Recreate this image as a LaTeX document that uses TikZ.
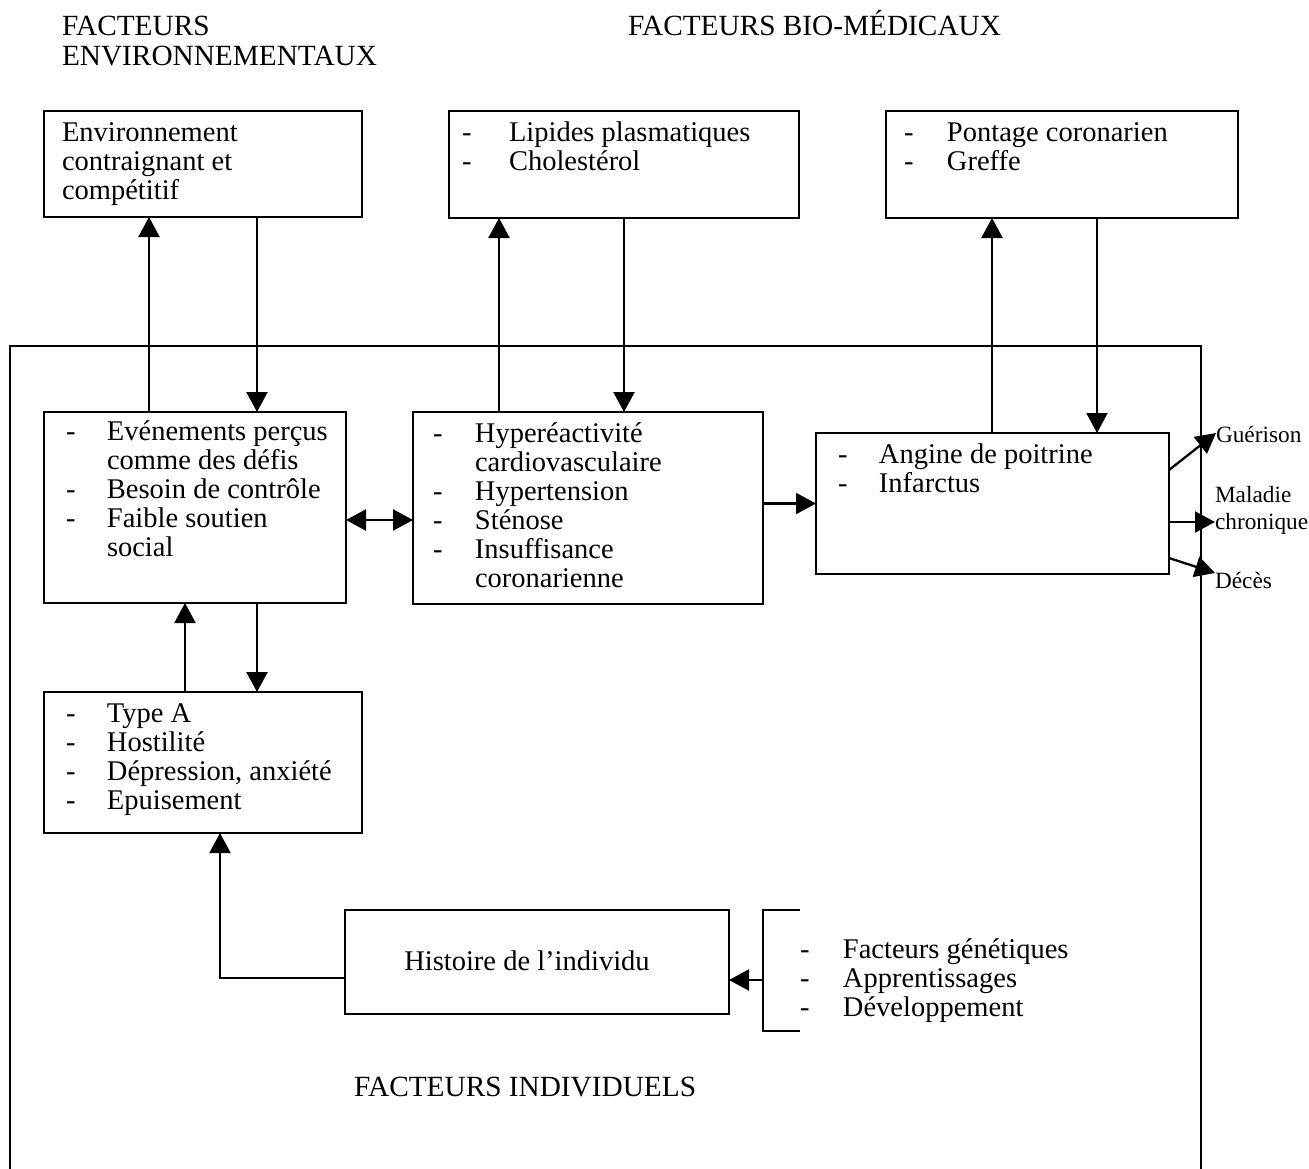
\documentclass[tikz,border=0pt]{standalone}
\usepackage{fontspec}
\setmainfont{Liberation Serif}
\usetikzlibrary{arrows.meta}
\newcommand{\blist}[2]{\begin{tabular}[t]{@{}p{#1}@{}l@{}}#2\end{tabular}}
\newcommand{\tlines}[1]{\begin{tabular}[t]{@{}l@{}}#1\end{tabular}}
\begin{document}
\begin{tikzpicture}[x=1pt,y=-1pt,
  box/.style={draw,line width=2.3pt,inner sep=0pt,outer sep=0pt},
  txt/.style={anchor=base west,inner sep=0pt,outer sep=0pt,font=\fontsize{28.5}{29}\selectfont},
  ttl/.style={anchor=base west,inner sep=0pt,outer sep=0pt,font=\fontsize{29.3}{29}\selectfont},
  small/.style={anchor=base west,inner sep=0pt,outer sep=0pt,font=\fontsize{23.3}{27}\selectfont},
  lin/.style={line width=2.3pt},
  arr/.style={line width=2.3pt,-{Triangle[length=20pt,width=21pt]}},
  darr/.style={line width=2.3pt,{Triangle[length=20pt,width=21pt]}-{Triangle[length=20pt,width=21pt]}}]
\fill[white] (0,0) rectangle (1309,1168);
\useasboundingbox (0,0) rectangle (1309,1168);

% outer frame (bottom cut off)
\draw[lin] (10,1190) -- (10,346) -- (1201,346) -- (1201,1190);

% titles
\node[ttl] (t1) at (62,35) {\begin{tabular}[t]{@{}l@{}}FACTEURS\\[1pt]ENVIRONNEMENTAUX\end{tabular}};
\node[ttl] (t2) at (628,35) {FACTEURS BIO-MÉDICAUX};
\node[ttl] (t3) at (354,1096) {FACTEURS INDIVIDUELS};

% boxes
\node[box,minimum width=318pt,minimum height=106pt] (env) at (203,164) {};
\node[box,minimum width=350pt,minimum height=107pt] (lip) at (624,164.5) {};
\node[box,minimum width=352pt,minimum height=107pt] (pon) at (1062,164.5) {};
\node[box,minimum width=302pt,minimum height=191pt] (evt) at (195,507.5) {};
\node[box,minimum width=350pt,minimum height=192pt] (hyp) at (588,508) {};
\node[box,minimum width=353pt,minimum height=141pt] (ang) at (992.5,503.5) {};
\node[box,minimum width=318pt,minimum height=141pt] (typ) at (203,762.5) {};
\node[box,minimum width=384pt,minimum height=104pt] (his) at (537,962) {};

% box texts
\node[txt] (envt) at (62,141) {\tlines{Environnement\\contraignant et\\compétitif}};
\node[txt] (lipt) at (462,141) {\blist{47pt}{-&Lipides plasmatiques\\-&Cholestérol}};
\node[txt] (pont) at (904,141) {\blist{43pt}{-&Pontage coronarien\\-&Greffe}};
\node[txt] (evtt) at (66,440) {\blist{41pt}{-&Evénements perçus\\&comme des défis\\-&Besoin de contrôle\\-&Faible soutien\\&social}};
\node[txt] (hypt) at (433,442) {\blist{42pt}{-&Hyperéactivité\\&cardiovasculaire\\-&Hypertension\\-&Sténose\\-&Insuffisance\\&coronarienne}};
\node[txt] (angt) at (838,463) {\blist{41pt}{-&Angine de poitrine\\-&Infarctus}};
\node[txt] (typt) at (66,722) {\blist{41pt}{-&Type A\\-&Hostilité\\-&Dépression, anxiété\\-&Epuisement}};
\node[txt,anchor=base] (hist) at (527,970) {Histoire de l’individu};
\node[txt] (gent) at (800,958) {\blist{43pt}{-&Facteurs génétiques\\-&Apprentissages\\-&Développement}};

% outcome labels
\node[small] (gue) at (1216,442) {Guérison};
\node[small] (mal) at (1215,502) {Maladie};
\node[small] (chr) at (1215,529) {chronique};
\node[small] (dec) at (1215,588) {Décès};

% bracket
\draw[lin] (800,910) -- (763,910) -- (763,1031) -- (800,1031);
\coordinate (br) at (763,980);

% connectors
\draw[arr] ([xshift=105pt]evt.north west) -- ([xshift=105pt]env.south west);
\draw[arr] ([xshift=213pt]env.south west) -- ([xshift=213pt]evt.north west);
\draw[arr] ([xshift=86pt]hyp.north west) -- ([xshift=50pt]lip.south west);
\draw[arr] ([xshift=175pt]lip.south west) -- ([xshift=211pt]hyp.north west);
\draw[arr] ([xshift=176pt]ang.north west) -- ([xshift=106pt]pon.south west);
\draw[arr] ([xshift=211pt]pon.south west) -- ([xshift=281pt]ang.north west);
\draw[darr] ([yshift=-12.5pt]evt.east) -- ([yshift=-12.5pt]evt.east -| hyp.west);
\draw[arr] (hyp.east |- ang.west) -- (ang.west);
\draw[arr] ([xshift=141pt]typ.north west) -- ([xshift=141pt]evt.south west);
\draw[arr] ([xshift=213pt]evt.south west) -- ([xshift=213pt]typ.north west);
\draw[arr] ([yshift=-16pt]his.west) -| ([xshift=176pt]typ.south west);
\draw[arr] (br) -- (br -| his.east);
\draw[arr] ([yshift=33.5pt]ang.east) -- ([yshift=9pt]gue.base west);
\draw[arr] ([yshift=-18.5pt]ang.east) -- ([yshift=-18.5pt]ang.east -| chr.west);
\draw[arr] ([yshift=-54.5pt]ang.east) -- ([yshift=15pt]dec.base west);
\end{tikzpicture}
\end{document}
